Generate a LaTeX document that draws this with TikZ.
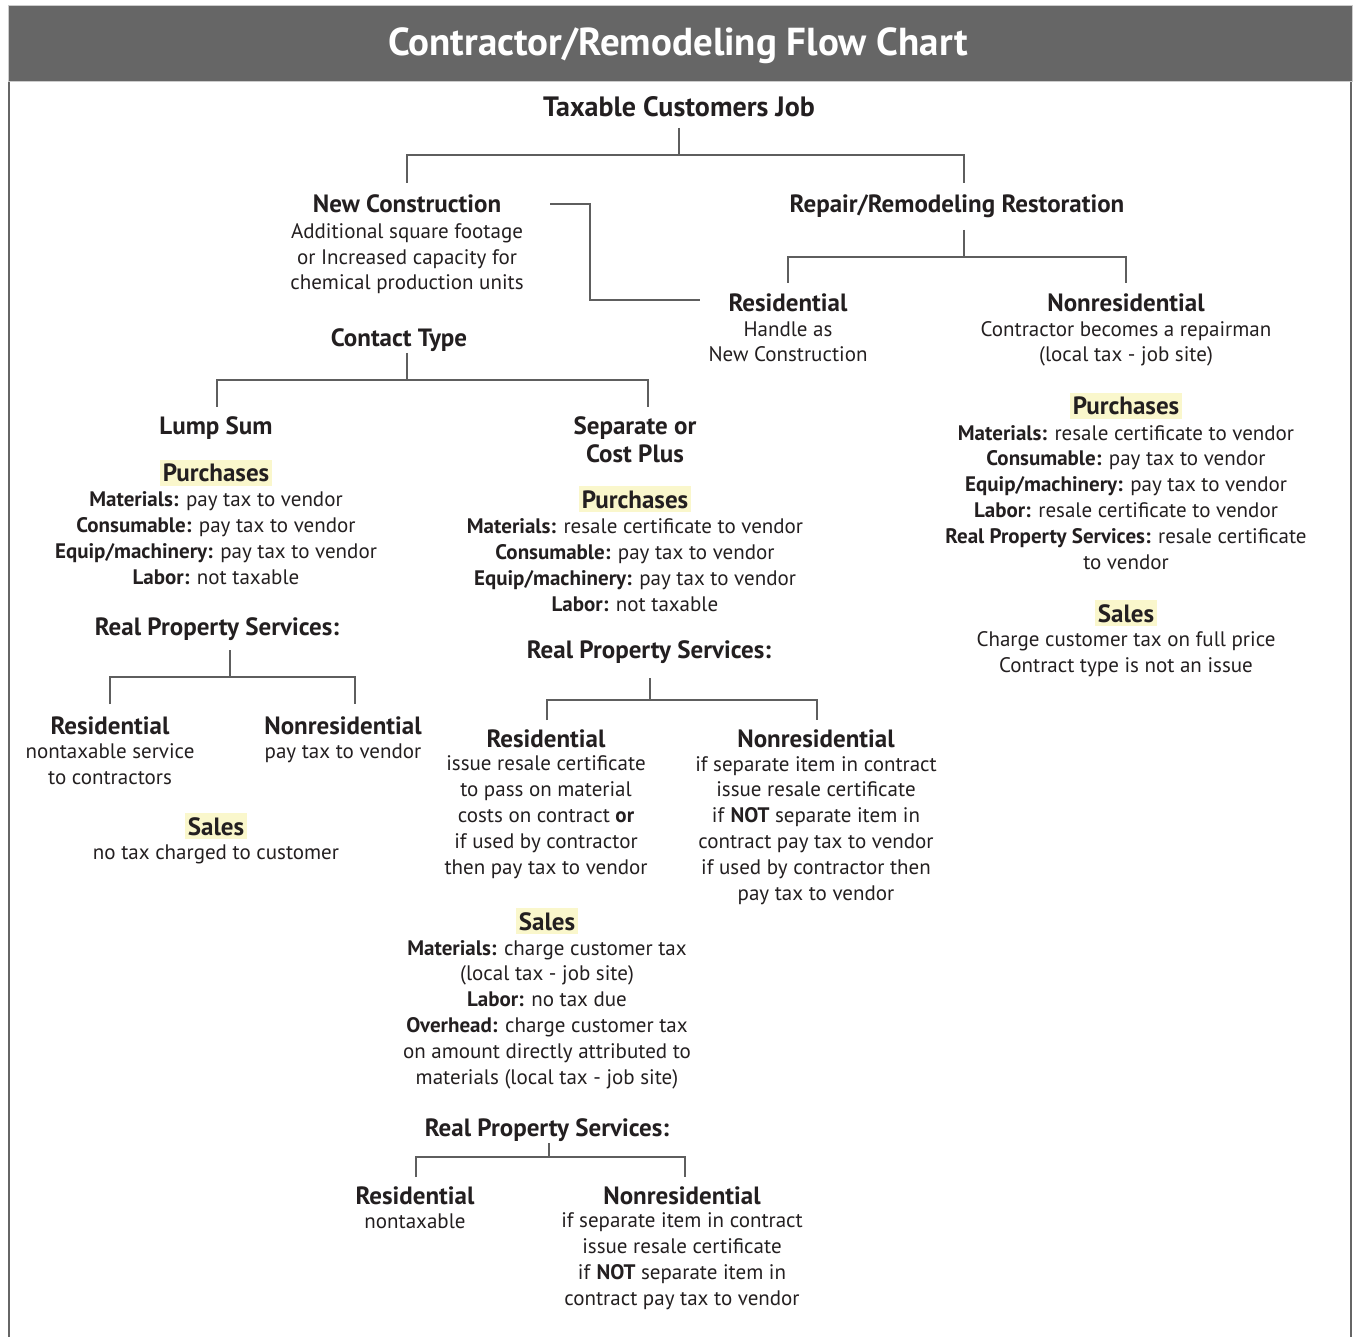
\documentclass[tikz,border=0pt]{standalone}
\usepackage{fontspec}
\setmainfont{PT Sans}
\definecolor{bar}{HTML}{666666}
\definecolor{ink}{HTML}{231F20}
\definecolor{hl}{HTML}{FAF7CC}
\definecolor{ln}{HTML}{5E5E5E}
\begin{document}
\begin{tikzpicture}[x=1pt,y=-1pt,
  txt/.style={align=center, anchor=base, inner sep=0pt, text=ink, font=\fontsize{21}{25.8}\selectfont},
  head/.style={align=center, anchor=base, inner sep=0pt, text=ink, font=\fontsize{25}{28}\selectfont\bfseries},
  hlt/.style={head, fill=hl, inner xsep=3pt, inner ysep=4pt},
  conn/.style={draw=ln, line width=1.2pt},
  titlestyle/.style={anchor=base, inner sep=0pt, text=white, font=\fontsize{39}{42}\selectfont\bfseries}]
\useasboundingbox (0,0) rectangle (1353,1337);
\fill[bar, draw=black!20, line width=1pt] (8,6) rectangle (1352,82);
\draw[bar, line width=2pt] (9,82) -- (9,1337);
\draw[bar, line width=2pt] (1351,82) -- (1351,1337);
\node[titlestyle] (title) at (678,56) {Contractor/Remodeling Flow Chart};

% top level (multi-line nodes are placed at the baseline of their last line)
\node[head, font=\fontsize{28}{32}\selectfont\bfseries] (tcj) at (679,117) {Taxable Customers Job};
\node[head] (nc) at (407,213) {New Construction};
\node[txt] (ncb) at (407,290) {Additional square footage\\or Increased capacity for\\chemical production units};
\node[head] (rr) at (957,213) {Repair/Remodeling Restoration};

% repair branch
\node[head] (rres) at (788,312) {Residential};
\node[txt] (rresb) at (788,362) {Handle as\\New Construction};
\node[head] (rnon) at (1126,312) {Nonresidential};
\node[txt] (rnonb) at (1126,362) {Contractor becomes a repairman\\(local tax - job site)};
\node[hlt] (rpurch) at (1126,415) {Purchases};
\node[txt] (rpurchb) at (1126,569) {\textbf{Materials:} resale certificate to vendor\\\textbf{Consumable:} pay tax to vendor\\\textbf{Equip/machinery:} pay tax to vendor\\\textbf{Labor:} resale certificate to vendor\\\textbf{Real Property Services:} resale certificate\\to vendor};
\node[hlt] (rsales) at (1126,622) {Sales};
\node[txt] (rsalesb) at (1126,672) {Charge customer tax on full price\\Contract type is not an issue};

% contact type
\node[head] (ct) at (399,347) {Contact Type};
\node[head] (ls) at (216,435) {Lump Sum};
\node[hlt] (lpurch) at (216,482) {Purchases};
\node[txt] (lpurchb) at (216,584) {\textbf{Materials:} pay tax to vendor\\\textbf{Consumable:} pay tax to vendor\\\textbf{Equip/machinery:} pay tax to vendor\\\textbf{Labor:} not taxable};
\node[head] (lrps) at (217,635) {Real Property Services:};
\node[head] (lres) at (110,734) {Residential};
\node[txt] (lresb) at (110,784) {nontaxable service\\to contractors};
\node[head] (lnon) at (343,734) {Nonresidential};
\node[txt] (lnonb) at (343,758) {pay tax to vendor};
\node[hlt] (lsales) at (216,835) {Sales};
\node[txt] (lsalesb) at (216,859) {no tax charged to customer};

% separate or cost plus
\node[head] (sep) at (635,463) {Separate or\\Cost Plus};
\node[hlt] (spurch) at (635,508) {Purchases};
\node[txt] (spurchb) at (635,611) {\textbf{Materials:} resale certificate to vendor\\\textbf{Consumable:} pay tax to vendor\\\textbf{Equip/machinery:} pay tax to vendor\\\textbf{Labor:} not taxable};
\node[head] (srps) at (649,658) {Real Property Services:};
\node[head] (sres) at (546,747) {Residential};
\node[txt] (sresb) at (546,874) {issue resale certificate\\to pass on material\\costs on contract \textbf{or}\\if used by contractor\\then pay tax to vendor};
\node[head] (snon) at (816,747) {Nonresidential};
\node[txt] (snonb) at (816,900) {if separate item in contract\\issue resale certificate\\if \textbf{NOT} separate item in\\contract pay tax to vendor\\if used by contractor then\\pay tax to vendor};
\node[hlt] (ssales) at (547,930) {Sales};
\node[txt] (ssalesb) at (547,1084) {\textbf{Materials:} charge customer tax\\(local tax - job site)\\\textbf{Labor:} no tax due\\\textbf{Overhead:} charge customer tax\\on amount directly attributed to\\materials (local tax - job site)};
\node[head] (s2rps) at (547,1136) {Real Property Services:};
\node[head] (s2res) at (415,1204) {Residential};
\node[txt] (s2resb) at (415,1228) {nontaxable};
\node[head] (s2non) at (682,1204) {Nonresidential};
\node[txt] (s2nonb) at (682,1305) {if separate item in contract\\issue resale certificate\\if \textbf{NOT} separate item in\\contract pay tax to vendor};

% connectors
\draw[conn] ([yshift=-11pt]tcj.base) -- ++(0,27) coordinate (k1);
\draw[conn] ([yshift=30pt]nc.base) |- (k1) -| ([xshift=7pt,yshift=30pt]rr.base);
\draw[conn] ([xshift=143pt,yshift=9pt]nc.base) -- ++(40,0) |- ([xshift=-88pt,yshift=12pt]rres.base);
\draw[conn] ([xshift=7pt,yshift=-17pt]rr.base) -- ++(0,27) coordinate (k2);
\draw[conn] ([yshift=29pt]rres.base) |- (k2) -| ([yshift=29pt]rnon.base);
\draw[conn] ([xshift=8pt,yshift=-6pt]ct.base) -- ++(0,27) coordinate (k3);
\draw[conn] ([xshift=1pt,yshift=28pt]ls.base) |- (k3) -| ([xshift=13pt,yshift=56pt]sep.base);
\draw[conn] ([xshift=13pt,yshift=-15pt]lrps.base) -- ++(0,27) coordinate (k4);
\draw[conn] ([yshift=30pt]lres.base) |- (k4) -| ([xshift=12pt,yshift=30pt]lnon.base);
\draw[conn] ([xshift=1pt,yshift=-20pt]srps.base) -- ++(0,22) coordinate (k5);
\draw[conn] ([xshift=1pt,yshift=27pt]sres.base) |- (k5) -| ([xshift=1pt,yshift=27pt]snon.base);
\draw[conn] ([xshift=2pt,yshift=-7pt]s2rps.base) -- ++(0,14) coordinate (k6);
\draw[conn] ([xshift=1pt,yshift=27pt]s2res.base) |- (k6) -| ([xshift=3pt,yshift=27pt]s2non.base);
\end{tikzpicture}
\end{document}
